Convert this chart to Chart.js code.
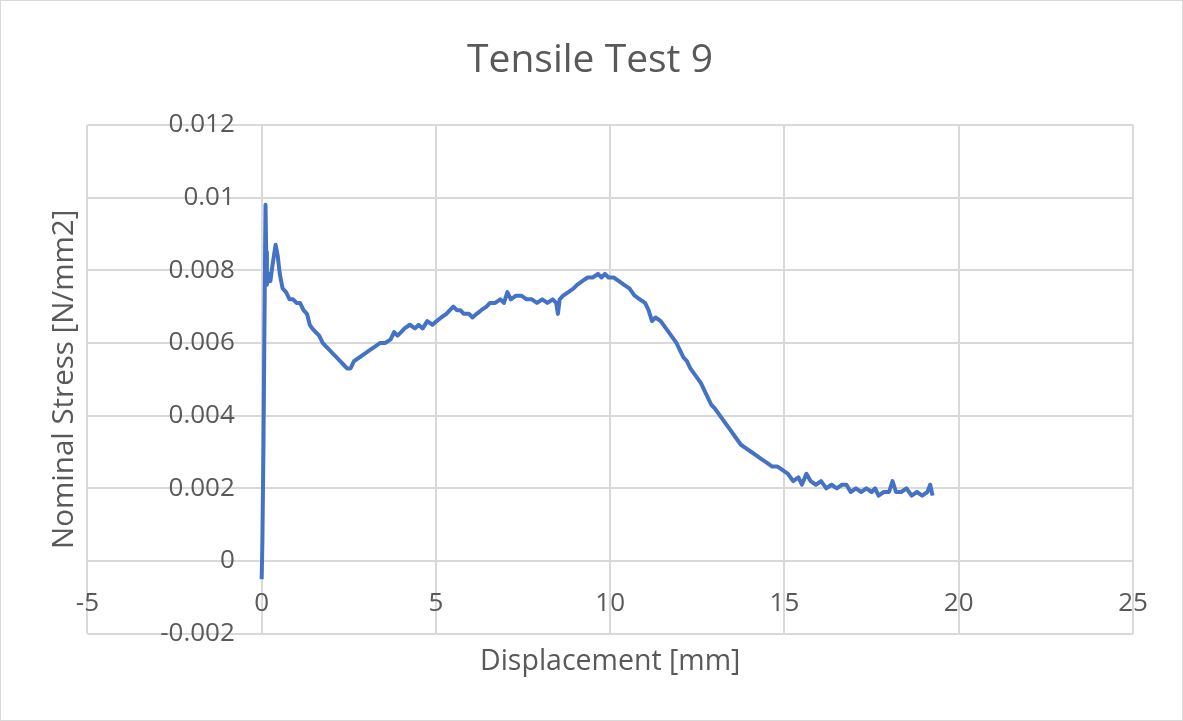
<!DOCTYPE html>
<html>
<head>
<meta charset="utf-8">
<script src="https://cdn.jsdelivr.net/npm/chart.js@4.4.1/dist/chart.umd.min.js"></script>
<style>
  body { margin: 0; background: #fff; }
  #wrap { width: 1183px; height: 721px; box-sizing: border-box; border: 1px solid #d9d9d9; }
  canvas { display: block; }
</style>
</head>
<body>
<div id="wrap"><canvas id="myChart" width="1181" height="719"></canvas></div>
<script>
// displacement [mm] and nominal stress [N/mm2]
const displacement = [
  0, 0.02, 0.05, 0.08, 0.11, 0.13, 0.15, 0.2, 0.25, 0.32, 0.4, 0.46, 0.52, 0.6, 0.7, 0.8, 0.9, 1.0,
  1.1, 1.2, 1.3, 1.38, 1.45, 1.55, 1.65, 1.75, 1.85, 1.95, 2.05, 2.15, 2.25, 2.35, 2.45, 2.55, 2.65,
  2.8, 2.95, 3.1, 3.25, 3.4, 3.55, 3.7, 3.8, 3.9, 4.0, 4.1, 4.25, 4.4, 4.5, 4.62, 4.75, 4.9, 5.02,
  5.15, 5.3, 5.4, 5.5, 5.6, 5.7, 5.8, 5.95, 6.05, 6.17, 6.3, 6.45, 6.55, 6.7, 6.85, 6.95, 7.05, 7.15,
  7.3, 7.45, 7.6, 7.75, 7.9, 8.05, 8.2, 8.35, 8.45, 8.5, 8.55, 8.65, 8.8, 8.95, 9.05, 9.2, 9.35, 9.5,
  9.65, 9.75, 9.85, 9.95, 10.1, 10.25, 10.4, 10.55, 10.7, 10.85, 11.0, 11.1, 11.2, 11.3, 11.45, 11.6,
  11.75, 11.9, 12.0, 12.1, 12.2, 12.3, 12.45, 12.6, 12.75, 12.9, 13.0, 13.15, 13.3, 13.45, 13.6,
  13.75, 13.9, 14.05, 14.2, 14.35, 14.5, 14.65, 14.8, 14.95, 15.1, 15.25, 15.4, 15.5, 15.63, 15.75,
  15.9, 16.05, 16.2, 16.35, 16.5, 16.65, 16.78, 16.9, 17.05, 17.2, 17.35, 17.5, 17.6, 17.7, 17.85,
  18.0, 18.1, 18.2, 18.35, 18.5, 18.65, 18.8, 18.95, 19.1, 19.18, 19.25
];
const stress = [
  -0.0005, 0.0005, 0.003, 0.0065, 0.0098, 0.0085, 0.0076, 0.0079, 0.0077, 0.0082, 0.0087, 0.0084,
  0.0079, 0.0075, 0.0074, 0.0072, 0.0072, 0.0071, 0.0071, 0.0069, 0.0068, 0.0065, 0.0064, 0.0063,
  0.0062, 0.0060, 0.0059, 0.0058, 0.0057, 0.0056, 0.0055, 0.0054, 0.0053, 0.0053, 0.0055, 0.0056,
  0.0057, 0.0058, 0.0059, 0.0060, 0.0060, 0.0061, 0.0063, 0.0062, 0.0063, 0.0064, 0.0065, 0.0064,
  0.0065, 0.0064, 0.0066, 0.0065, 0.0066, 0.0067, 0.0068, 0.0069, 0.0070, 0.0069, 0.0069, 0.0068,
  0.0068, 0.0067, 0.0068, 0.0069, 0.0070, 0.0071, 0.0071, 0.0072, 0.0071, 0.0074, 0.0072, 0.0073,
  0.0073, 0.0072, 0.0072, 0.0071, 0.0072, 0.0071, 0.0072, 0.0071, 0.0068, 0.0072, 0.0073, 0.0074,
  0.0075, 0.0076, 0.0077, 0.0078, 0.0078, 0.0079, 0.0078, 0.0079, 0.0078, 0.0078, 0.0077, 0.0076,
  0.0075, 0.0073, 0.0072, 0.0071, 0.0069, 0.0066, 0.0067, 0.0066, 0.0064, 0.0062, 0.0060, 0.0058,
  0.0056, 0.0055, 0.0053, 0.0051, 0.0049, 0.0046, 0.0043, 0.0042, 0.0040, 0.0038, 0.0036, 0.0034,
  0.0032, 0.0031, 0.0030, 0.0029, 0.0028, 0.0027, 0.0026, 0.0026, 0.0025, 0.0024, 0.0022, 0.0023,
  0.0021, 0.0024, 0.0022, 0.0021, 0.0022, 0.0020, 0.0021, 0.0020, 0.0021, 0.0021, 0.0019, 0.0020,
  0.0019, 0.0020, 0.0019, 0.0020, 0.0018, 0.0019, 0.0019, 0.0022, 0.0019, 0.0019, 0.0020, 0.0018,
  0.0019, 0.0018, 0.0019, 0.0021, 0.0018
];
const xTicks = [-5, 0, 5, 10, 15, 20, 25];
const yTicks = [-0.002, 0, 0.002, 0.004, 0.006, 0.008, 0.01, 0.012];

const textGray = "#595959";
const gridGray = "#d9d9d9";
const fontFamily = "'Open Sans', sans-serif";

const points = displacement.map((d, i) => ({ x: d, y: stress[i] }));

const ctx = document.getElementById("myChart").getContext("2d");
new Chart(ctx, {
  type: "scatter",
  data: {
    datasets: [{
      data: points,
      showLine: true,
      borderColor: "#4472C4",
      backgroundColor: "#4472C4",
      borderWidth: 4,
      borderJoinStyle: "round",
      pointRadius: 0,
      tension: 0,
      xAxisID: "x",
      yAxisID: "y",
    }],
  },
  options: {
    responsive: false,
    animation: false,
    devicePixelRatio: 1,
    layout: { padding: { left: 46, right: 49, top: 0, bottom: 41 } },
    plugins: {
      legend: { display: false },
      tooltip: { enabled: false },
      title: {
        display: true,
        text: "Tensile Test 9",
        color: textGray,
        font: { family: fontFamily, size: 39, weight: "normal" },
        padding: { top: 36, bottom: 41 },
      },
    },
    scales: {
      x: {
        type: "linear",
        position: { y: 0 },
        min: -5, max: 25,
        afterBuildTicks: (axis) => { axis.ticks = xTicks.map(v => ({ value: v })); },
        ticks: { color: textGray, font: { family: fontFamily, size: 26 }, padding: 27, maxRotation: 0 },
        grid: { color: gridGray, lineWidth: 2, drawTicks: false },
        border: { color: gridGray, width: 2 },
      },
      y: {
        type: "linear",
        // labels sit left of the x = 0 line, like the reference; the line itself is the x grid line
        position: { x: -0.77 },
        min: -0.002, max: 0.012,
        afterBuildTicks: (axis) => { axis.ticks = yTicks.map(v => ({ value: v })); },
        ticks: {
          color: textGray, font: { family: fontFamily, size: 26 },
          callback: (v) => String(+v.toFixed(3)),
        },
        grid: { color: gridGray, lineWidth: 2, drawTicks: false },
        border: { display: false },
      },
      xTitle: {
        type: "linear",
        position: "bottom",
        ticks: { display: false },
        grid: { display: false, drawTicks: false },
        border: { display: false },
        title: {
          display: true, text: "Displacement [mm]", color: textGray,
          font: { family: fontFamily, size: 28.5 }, padding: { top: 11, bottom: 0 },
        },
      },
      yTitle: {
        type: "linear",
        position: "left",
        ticks: { display: false },
        grid: { display: false, drawTicks: false },
        border: { display: false },
        title: {
          display: true, text: "Nominal Stress [N/mm2]", color: textGray,
          font: { family: fontFamily, size: 29.5 }, padding: { top: 0, bottom: 5 },
        },
      },
    },
  },
});
</script>
</body>
</html>
